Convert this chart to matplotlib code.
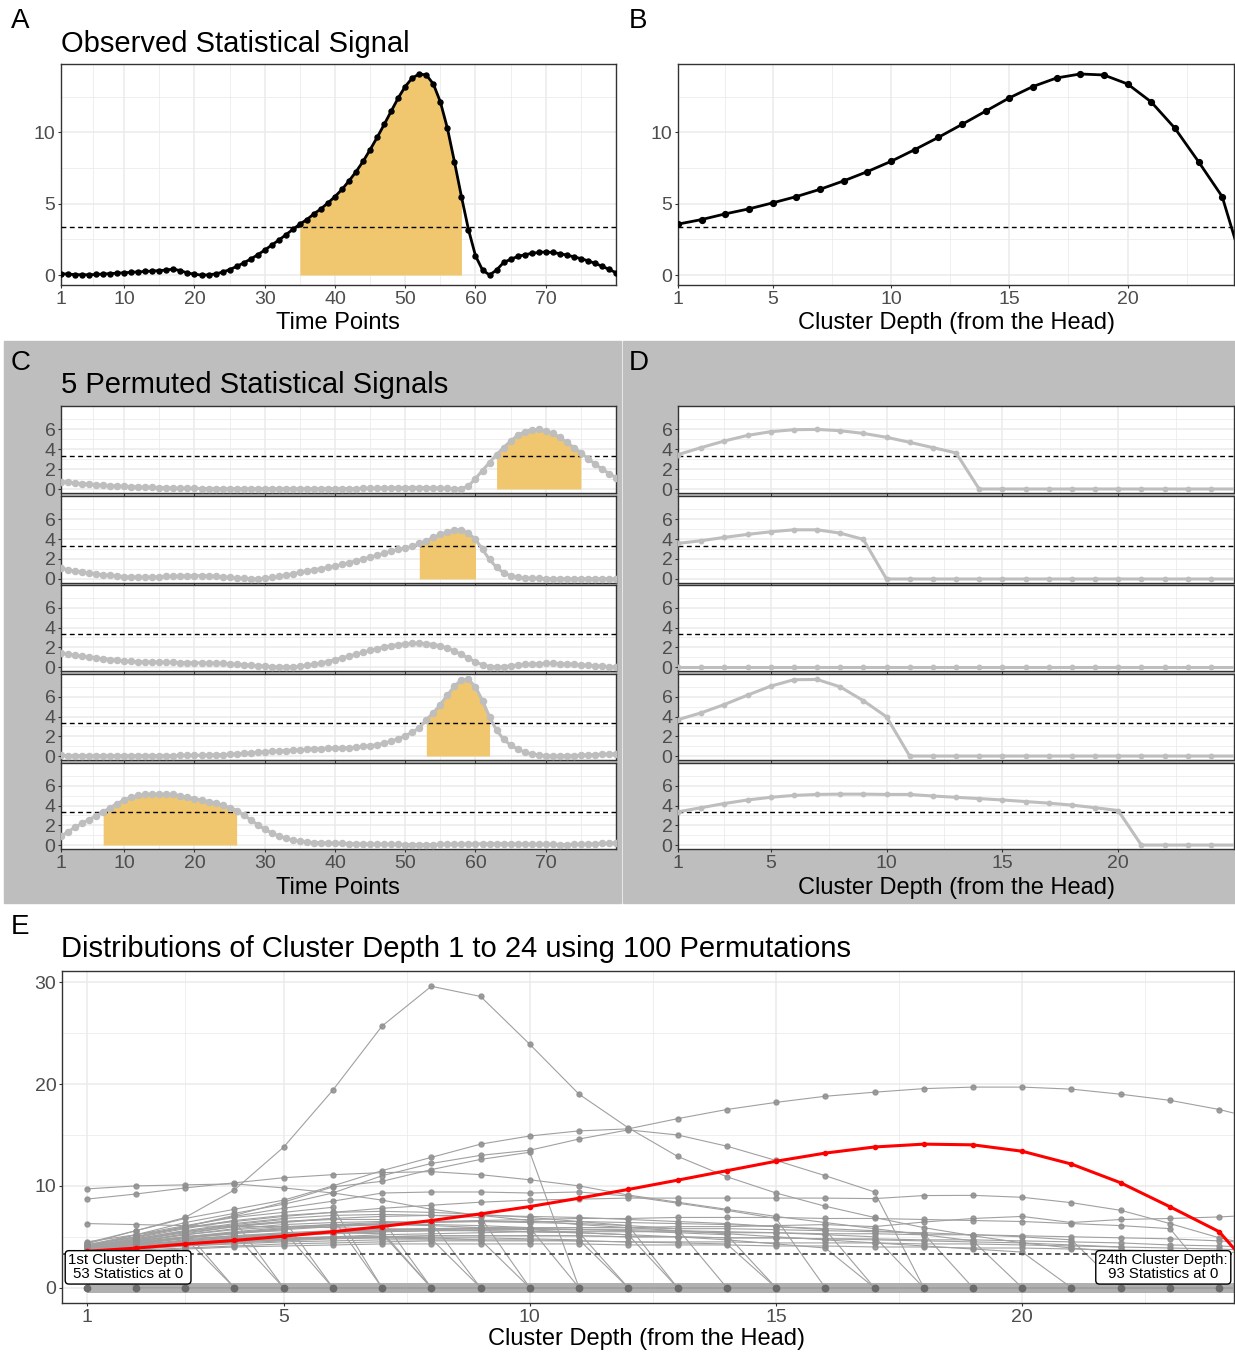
import numpy as np
import matplotlib
matplotlib.use("Agg")
import matplotlib.pyplot as plt
from matplotlib.patches import Rectangle

plt.rcParams['font.family'] = ['Liberation Sans', 'DejaVu Sans']

# ---- data ----
threshold = 3.34

# observed statistic at time points 1..80
observed = [0.10, 0.06, 0.03, 0.02, 0.02, 0.04, 0.07, 0.10, 0.13, 0.16,
            0.19, 0.22, 0.25, 0.28, 0.31, 0.35, 0.42, 0.30, 0.15, 0.05,
            0.00, 0.01, 0.08, 0.20, 0.38, 0.60, 0.85, 1.12, 1.42, 1.75,
            2.10, 2.45, 2.82, 3.20,
            3.57, 3.89, 4.29, 4.64, 5.06, 5.50, 6.01, 6.60, 7.25, 7.97,
            8.79, 9.65, 10.56, 11.49, 12.42, 13.22, 13.82, 14.10, 14.03, 13.40,
            12.14, 10.30, 7.95, 5.50,
            3.19, 1.35, 0.35, 0.00, 0.35, 0.88, 1.10, 1.30, 1.42, 1.52,
            1.58, 1.62, 1.58, 1.50, 1.40, 1.28, 1.15, 1.00, 0.82, 0.62,
            0.40, 0.16]

perm_1 = [0.75, 0.68, 0.60, 0.54, 0.48, 0.43, 0.38, 0.34, 0.30, 0.27,
          0.24, 0.21, 0.18, 0.16, 0.14, 0.12, 0.10, 0.08, 0.07, 0.06,
          0.05, 0.05, 0.04, 0.04, 0.04, 0.03, 0.03, 0.03, 0.03, 0.03,
          0.03, 0.03, 0.03, 0.03, 0.03, 0.03, 0.03, 0.03, 0.04, 0.04,
          0.04, 0.05, 0.05, 0.06, 0.07, 0.08, 0.10, 0.12, 0.13, 0.14,
          0.15, 0.15, 0.14, 0.12, 0.09, 0.06, 0.03, 0.02, 0.30, 1.05,
          1.85, 2.65, 3.44, 4.14, 4.80, 5.36, 5.73, 5.93, 5.96, 5.83,
          5.56, 5.17, 4.67, 4.14, 3.61, 3.05, 2.50, 2.00, 1.55, 1.15]
perm_2 = [1.07, 0.93, 0.80, 0.68, 0.58, 0.49, 0.41, 0.35, 0.29, 0.24,
          0.21, 0.19, 0.19, 0.20, 0.22, 0.25, 0.28, 0.30, 0.32, 0.33,
          0.33, 0.31, 0.27, 0.21, 0.15, 0.09, 0.05, 0.02, 0.02, 0.07,
          0.15, 0.25, 0.37, 0.51, 0.67, 0.80, 0.92, 1.04, 1.15, 1.27,
          1.45, 1.63, 1.81, 1.99, 2.17, 2.37, 2.57, 2.77, 2.97, 3.12,
          3.26, 3.56, 3.83, 4.16, 4.46, 4.72, 4.92, 4.92, 4.59, 3.96,
          2.95, 1.95, 1.15, 0.62, 0.32, 0.17, 0.10, 0.07, 0.05, 0.04,
          0.04, 0.03, 0.03, 0.03, 0.03, 0.03, 0.03, 0.03, 0.03, 0.03]
perm_3 = [1.40, 1.30, 1.20, 1.10, 1.00, 0.92, 0.84, 0.76, 0.69, 0.62,
          0.58, 0.55, 0.52, 0.50, 0.48, 0.47, 0.46, 0.45, 0.44, 0.43,
          0.42, 0.40, 0.38, 0.36, 0.33, 0.29, 0.24, 0.19, 0.14, 0.09,
          0.05, 0.02, 0.01, 0.03, 0.08, 0.16, 0.27, 0.40, 0.56, 0.74,
          0.92, 1.11, 1.30, 1.49, 1.68, 1.86, 2.02, 2.16, 2.27, 2.35,
          2.40, 2.41, 2.37, 2.28, 2.13, 1.91, 1.62, 1.27, 0.89, 0.52,
          0.22, 0.05, 0.01, 0.05, 0.12, 0.20, 0.26, 0.31, 0.34, 0.36,
          0.36, 0.34, 0.31, 0.27, 0.22, 0.17, 0.12, 0.08, 0.05, 0.03]
perm_4 = [0.06, 0.05, 0.05, 0.04, 0.04, 0.04, 0.04, 0.04, 0.04, 0.04,
          0.04, 0.04, 0.04, 0.04, 0.05, 0.05, 0.05, 0.06, 0.06, 0.07,
          0.08, 0.10, 0.12, 0.15, 0.18, 0.22, 0.27, 0.32, 0.37, 0.42,
          0.47, 0.52, 0.56, 0.60, 0.64, 0.68, 0.72, 0.75, 0.78, 0.80,
          0.82, 0.85, 0.90, 0.97, 1.05, 1.15, 1.30, 1.50, 1.75, 2.05,
          2.40, 2.85, 3.68, 4.37, 5.21, 6.16, 7.07, 7.72, 7.75, 7.00,
          5.60, 3.97, 2.60, 1.70, 1.10, 0.70, 0.40, 0.20, 0.10, 0.05,
          0.03, 0.02, 0.03, 0.05, 0.08, 0.12, 0.15, 0.18, 0.20, 0.25]
perm_5 = [0.89, 1.35, 1.80, 2.20, 2.58, 2.95, 3.36, 3.78, 4.20, 4.56,
          4.83, 5.02, 5.12, 5.15, 5.15, 5.12, 5.12, 4.96, 4.83, 4.70,
          4.56, 4.40, 4.24, 4.04, 3.78, 3.49, 3.05, 2.55, 2.05, 1.60,
          1.22, 0.92, 0.68, 0.50, 0.38, 0.30, 0.25, 0.22, 0.20, 0.18,
          0.16, 0.14, 0.12, 0.11, 0.10, 0.09, 0.08, 0.07, 0.06, 0.05,
          0.05, 0.05, 0.05, 0.05, 0.06, 0.07, 0.08, 0.09, 0.10, 0.11,
          0.12, 0.13, 0.13, 0.13, 0.12, 0.11, 0.10, 0.09, 0.08, 0.07,
          0.06, 0.05, 0.05, 0.06, 0.08, 0.10, 0.13, 0.16, 0.19, 0.22]
permuted = [perm_1, perm_2, perm_3, perm_4, perm_5]

# cluster-depth values of the 47 permutations (out of 100) that had a cluster;
# each list stops where the cluster ends (statistic 0 after that)
n_perm = 100
perm_clusters = [
    [4.3, 5.6, 6.9, 9.6, 13.8, 19.4, 25.7, 29.6, 28.6, 23.9, 19.0, 15.7, 12.9, 10.9,
     9.3, 8.0, 6.9, 5.9, 5.1, 4.4, 3.9, 3.5],
    [4.4, 5.6, 6.8, 7.7, 8.6, 10.0, 11.5, 12.8, 14.1, 14.9, 15.4, 15.6, 16.6, 17.5,
     18.2, 18.8, 19.2, 19.55, 19.7, 19.7, 19.5, 19.0, 18.4, 17.5, 16.3],
    [4.0, 5.2, 6.4, 7.3, 8.2, 9.3, 11.0, 12.2, 13.0, 13.5, 14.6, 15.5, 15.0, 13.9,
     12.5, 11.0, 9.4],
    [4.2, 5.0, 6.0, 7.1, 8.4, 9.9, 10.45, 11.6, 12.6, 13.3],
    [9.7, 10.0, 10.1, 10.2, 9.8, 9.3, 8.6, 7.7, 7.1, 6.6, 6.2, 5.9, 5.6, 5.3, 5.0,
     4.7, 4.4, 4.1, 3.8, 3.5],
    [8.7, 9.2, 9.8, 10.3, 10.8, 11.1, 11.3, 11.4, 11.1, 10.6, 10.0, 9.1, 8.4, 7.7,
     7.0, 6.4, 5.8, 5.2, 4.6],
    [6.3, 6.2, 6.1, 6.0, 6.0, 5.9, 5.8, 5.7, 5.6, 5.5, 5.4, 5.2, 5.0, 4.7, 4.3, 3.9],
    [4.1, 5.0, 6.0, 7.0, 7.8, 8.5, 9.3, 9.4, 9.4, 9.3, 9.4, 9.0, 8.3, 7.6, 6.8],
    [4.5, 5.2, 5.9, 6.5, 7.0, 7.4, 7.8, 8.1, 8.4, 8.6, 8.7, 8.8, 8.8, 8.8, 8.8, 8.8,
     8.75, 9.05, 9.07, 8.88, 8.35, 7.6, 6.3, 4.9, 3.9],
    [4.0, 4.4, 4.8, 5.1, 5.3, 5.5, 5.6, 5.7, 5.8, 5.8, 5.9, 5.9, 6.0, 6.0, 6.1, 6.2,
     6.0, 6.45, 6.8, 7.0, 6.4, 6.7, 6.8, 6.95, 7.2],
    [3.7, 4.0, 4.3, 4.6, 4.8, 5.0, 5.2, 5.3, 5.4, 5.5, 5.5, 5.5, 5.5, 5.4, 5.4, 5.3,
     5.3, 5.2, 5.2, 5.1, 5.0, 4.9, 4.8, 4.6, 4.3],
    [3.6, 3.9, 4.2, 4.5, 4.7, 4.9, 5.0, 5.1, 5.1, 5.1, 5.1, 5.0, 5.0, 4.9, 4.9, 4.8,
     4.8, 4.7, 4.7, 4.6, 4.5, 4.4, 4.2, 4.1, 3.9],
    [3.5, 3.7, 3.9, 4.1, 4.3, 4.4, 4.5, 4.6, 4.6, 4.6, 4.6, 4.5, 4.5, 4.5, 4.4, 4.4,
     4.4, 4.3, 4.3, 4.2, 4.1, 4.0, 3.9, 3.8, 3.6],
    [3.4, 3.6, 3.8, 4.0, 4.1, 4.2, 4.3, 4.3, 4.3, 4.3, 4.3, 4.2, 4.2, 4.2, 4.1, 4.1,
     4.0, 4.0, 3.9, 3.9, 3.8, 3.7, 3.6, 3.5, 3.4],
    [3.5],
    [3.9],
    [3.6, 4.0],
    [4.1, 4.6],
    [3.7, 4.4, 4.9],
    [3.9, 4.8, 5.6],
    [3.5, 4.2, 4.9, 5.3],
    [4.0, 4.9, 5.8, 6.6],
    [3.6, 4.3, 5.0, 5.4, 5.6],
    [3.8, 4.6, 5.5, 6.2, 6.7],
    [3.7, 4.5, 5.3, 6.0, 6.5, 6.8],
    [4.2, 5.2, 6.1, 6.9, 7.4, 7.9],
    [3.5, 4.0, 4.5, 4.9, 5.2, 5.4, 5.5],
    [3.9, 4.7, 5.5, 6.1, 6.5, 6.7, 6.7],
    [3.6, 4.1, 4.6, 5.0, 5.3, 5.4, 5.3],
    [3.8, 4.5, 5.2, 5.8, 6.2, 6.4, 6.5, 6.4],
    [3.5, 3.9, 4.3, 4.6, 4.8, 4.9, 4.9, 4.8],
    [4.0, 4.8, 5.6, 6.3, 6.8, 7.1, 7.2, 7.1, 6.9],
    [3.6, 4.0, 4.4, 4.7, 4.9, 5.0, 5.0, 4.9, 4.7],
    [3.7, 4.3, 4.9, 5.4, 5.8, 6.1, 6.2, 6.2, 6.1, 5.9],
    [3.9, 4.6, 5.2, 5.7, 6.0, 6.2, 6.2, 6.1, 5.9, 5.7, 5.4],
    [3.5, 3.8, 4.1, 4.4, 4.6, 4.8, 4.9, 4.9, 4.9, 4.8, 4.7],
    [4.1, 5.0, 5.9, 6.6, 7.1, 7.4, 7.5, 7.4, 7.2, 6.9, 6.5, 6.1],
    [3.6, 4.1, 4.5, 4.9, 5.2, 5.4, 5.5, 5.6, 5.6, 5.5, 5.4, 5.2],
    [3.8, 4.4, 5.0, 5.5, 5.9, 6.2, 6.4, 6.5, 6.5, 6.4, 6.3, 6.1, 5.8],
    [3.7, 4.2, 4.7, 5.1, 5.4, 5.6, 5.7, 5.8, 5.8, 5.8, 5.7, 5.6, 5.4, 5.2],
    [3.5, 3.8, 4.1, 4.3, 4.5, 4.6, 4.7, 4.7, 4.7, 4.7, 4.6, 4.5, 4.4, 4.3],
    [4.0, 4.7, 5.4, 6.0, 6.4, 6.8, 7.0, 7.1, 7.1, 7.0, 6.9, 6.7, 6.5, 6.3, 6.0, 5.7],
    [3.6, 4.0, 4.4, 4.8, 5.1, 5.3, 5.5, 5.6, 5.7, 5.7, 5.7, 5.7, 5.6, 5.5, 5.4, 5.2,
     5.0],
    [3.7, 4.3, 4.9, 5.3, 5.7, 6.0, 6.2, 6.4, 6.5, 6.5, 6.5, 6.4, 6.3, 6.2, 6.0, 5.8,
     5.6, 5.3],
    [3.8, 4.2, 4.6, 5.0, 5.3, 5.5, 5.7, 5.8, 5.9, 5.9, 5.9, 5.9, 5.8, 5.8, 5.7, 5.6,
     5.5, 5.4, 5.2, 5.0, 4.7],
    [3.5, 3.9, 4.2, 4.5, 4.7, 4.9, 5.0, 5.1, 5.1, 5.1, 5.1, 5.0, 5.0, 4.9, 4.9, 4.8,
     4.7, 4.6, 4.5, 4.4, 4.2, 4.0],
    [4.0, 4.5, 5.0, 5.4, 5.8, 6.1, 6.3, 6.5, 6.6, 6.7, 6.8, 6.8, 6.9, 6.9, 6.9, 6.8,
     6.8, 6.7, 6.6, 6.5, 6.3, 6.1, 5.8],
]

time_ticks = [1, 10, 20, 30, 40, 50, 60, 70]
depth_ticks = [1, 5, 10, 15, 20]
n_depth = 25

# ---- helpers ----
W, H = 1235, 1352
fig = plt.figure(figsize=(W / 100, H / 100), dpi=100)
fig.patch.set_facecolor('white')

fill_col = '#F0C76F'
gray_line = '#BEBEBE'


def add_ax(l, t, r, b):
    return fig.add_axes([l / W, 1 - b / H, (r - l) / W, (b - t) / H])


def bw_style(ax, xmaj, xmin, ymaj, ymin, xlabels=True, fs=14):
    ax.set_xticks(xmaj)
    ax.set_xticks(xmin, minor=True)
    ax.set_yticks(ymaj)
    ax.set_yticks(ymin, minor=True)
    ax.set_axisbelow(True)
    ax.grid(which='major', color='#EBEBEB', lw=1.1)
    ax.grid(which='minor', color='#EBEBEB', lw=0.55)
    for s in ax.spines.values():
        s.set_color('#333333')
        s.set_linewidth(1.0)
    ax.tick_params(which='major', length=2.5, width=0.8, color='#333333',
                   labelcolor='#4D4D4D', labelsize=fs, pad=1.5)
    ax.tick_params(which='minor', length=0)
    if not xlabels:
        ax.tick_params(axis='x', labelbottom=False)


def cluster_depth(values):
    # statistics of the supra-threshold cluster, head first, 0 past its end
    v = np.asarray(values)
    above = v > threshold
    out = np.zeros(n_depth)
    best, i = (0, 0), 0
    while i < len(v):
        if above[i]:
            j = i
            while j < len(v) and above[j]:
                j += 1
            if j - i > best[1] - best[0]:
                best = (i, j)
            i = j
        else:
            i += 1
    seg = v[best[0]:best[1]]
    out[:len(seg)] = seg
    return out, best


def ftext(x, y, s, size, **kw):
    fig.text(x / W, 1 - y / H, s, fontsize=size, **kw)


# gray backgrounds behind C and D
fig.patches.append(Rectangle((4 / W, 1 - 903 / H), 617 / W, 562 / H,
                             transform=fig.transFigure, color='#BEBEBE', zorder=-5))
fig.patches.append(Rectangle((623 / W, 1 - 903 / H), 612 / W, 562 / H,
                             transform=fig.transFigure, color='#BEBEBE', zorder=-5))

t = np.arange(1, len(observed) + 1)
depth = np.arange(1, n_depth + 1)

# ---- A ----
axA = add_ax(61, 64, 616, 285)
obs_depth, (s0, s1) = cluster_depth(observed)
axA.fill_between(t[s0:s1], 0, np.asarray(observed)[s0:s1], color=fill_col, lw=0, zorder=2)
axA.axhline(threshold, color='black', lw=1.0, ls=(0, (3.5, 2.5)), zorder=3)
axA.plot(t, observed, color='black', lw=2.0, marker='o', ms=3.6, zorder=4)
axA.set_xlim(1, 80)
axA.set_ylim(-0.7, 14.8)
bw_style(axA, time_ticks, [5.5, 15, 25, 35, 45, 55, 65, 75], [0, 5, 10], [2.5, 7.5, 12.5])

# ---- B ----
axB = add_ax(678, 64, 1234, 285)
axB.axhline(threshold, color='black', lw=1.0, ls=(0, (3.5, 2.5)), zorder=3)
axB.plot(depth, obs_depth, color='black', lw=2.0, zorder=4)
axB.plot(depth[:24], obs_depth[:24], 'o', color='black', ms=4.2, zorder=5)
axB.set_xlim(1, 24.5)
axB.set_ylim(-0.7, 14.8)
bw_style(axB, depth_ticks, [3, 7.5, 12.5, 17.5, 22.5], [0, 5, 10], [2.5, 7.5, 12.5])

# ---- C and D ----
rows = [(406, 493), (496, 583), (585, 671), (674, 760), (763, 849)]
for k, (top, bot) in enumerate(rows):
    last = k == len(rows) - 1
    vals = permuted[k]
    d_vals, (s0, s1) = cluster_depth(vals)

    axC = add_ax(61, top, 616, bot)
    if s1 > s0:
        axC.fill_between(t[s0:s1], 0, np.asarray(vals)[s0:s1], color=fill_col, lw=0, zorder=2)
    axC.axhline(threshold, color='black', lw=1.0, ls=(0, (3.5, 2.5)), zorder=3)
    axC.plot(t, vals, color=gray_line, lw=2.2, marker='o', ms=4.4, zorder=4)
    axC.set_xlim(1, 80)
    axC.set_ylim(-0.4, 8.3)
    bw_style(axC, time_ticks, [5.5, 15, 25, 35, 45, 55, 65, 75], [0, 2, 4, 6], [1, 3, 5, 7],
             xlabels=last)

    axD = add_ax(678, top, 1234, bot)
    axD.axhline(threshold, color='black', lw=1.0, ls=(0, (3.5, 2.5)), zorder=3)
    axD.plot(depth, d_vals, color=gray_line, lw=2.2, zorder=4)
    axD.plot(depth[:24], d_vals[:24], 'o', color=gray_line, ms=3.2, zorder=4)
    axD.set_xlim(1, 25)
    axD.set_ylim(-0.4, 8.3)
    bw_style(axD, depth_ticks, [3, 7.5, 12.5, 17.5, 22.5], [0, 2, 4, 6], [1, 3, 5, 7],
             xlabels=last)

# ---- E ----
axE = add_ax(62, 971, 1234, 1303)
zero_line = np.zeros(n_depth)
axE.plot(depth, zero_line, color='#B0B0B0', lw=7.2, solid_capstyle='butt', zorder=2)
for vals in perm_clusters:
    y = np.zeros(n_depth)
    y[:len(vals)] = vals
    axE.plot(depth, y, color='#A0A0A0', lw=0.8, zorder=3)
    k = min(len(vals), 24)
    axE.plot(depth[:k], vals[:k], 'o', color='#8F8F8F', ms=3.6, alpha=0.85, zorder=4)
n_zero = np.array([n_perm - sum(len(v) >= d for v in perm_clusters) for d in depth])
zd = depth[(n_zero > 0) & (depth <= 24)]
axE.plot(zd, np.zeros(len(zd)), 'o', color='#6B6B6B', ms=4.6, zorder=4)
axE.axhline(threshold, color='#4D4D4D', lw=1.3, ls=(0, (3, 2)), zorder=5)
axE.plot(depth, obs_depth, color='#FF0000', lw=2.2, zorder=6)
axE.plot(depth[:24], obs_depth[:24], 'o', color='#FF0000', ms=3.0, zorder=6)
axE.set_xlim(0.5, 24.3)
axE.set_ylim(-1.5, 31.1)
bw_style(axE, depth_ticks, [3, 7.5, 12.5, 17.5, 22.5], [0, 10, 20, 30], [5, 15, 25])
box = dict(boxstyle='round,pad=0.18,rounding_size=0.25', fc='white', ec='black', lw=1.0)
axE.text(0.62, 2.0, f"1st Cluster Depth:\n{n_zero[0]} Statistics at 0", ha='left',
         va='center', fontsize=10.8, multialignment='center', linespacing=1.0,
         bbox=box, zorder=8)
axE.text(24.18, 2.0, f"24th Cluster Depth:\n{n_zero[23]} Statistics at 0", ha='right',
         va='center', fontsize=10.8, multialignment='center', linespacing=1.0,
         bbox=box, zorder=8)

# ---- texts ----
ftext(11, 28, "A", 20)
ftext(629, 28, "B", 20)
ftext(11, 370, "C", 20)
ftext(629, 370, "D", 20)
ftext(11, 934, "E", 20)
ftext(61, 52, "Observed Statistical Signal", 21)
ftext(61, 393, "5 Permuted Statistical Signals", 21)
ftext(61, 957, "Distributions of Cluster Depth 1 to 24 using 100 Permutations", 21)
ftext(338, 329, "Time Points", 17, ha='center')
ftext(956, 329, "Cluster Depth (from the Head)", 17, ha='center')
ftext(338, 894, "Time Points", 17, ha='center')
ftext(956, 894, "Cluster Depth (from the Head)", 17, ha='center')
ftext(647, 1345, "Cluster Depth (from the Head)", 17, ha='center')

fig.savefig("out.png", dpi=100)
